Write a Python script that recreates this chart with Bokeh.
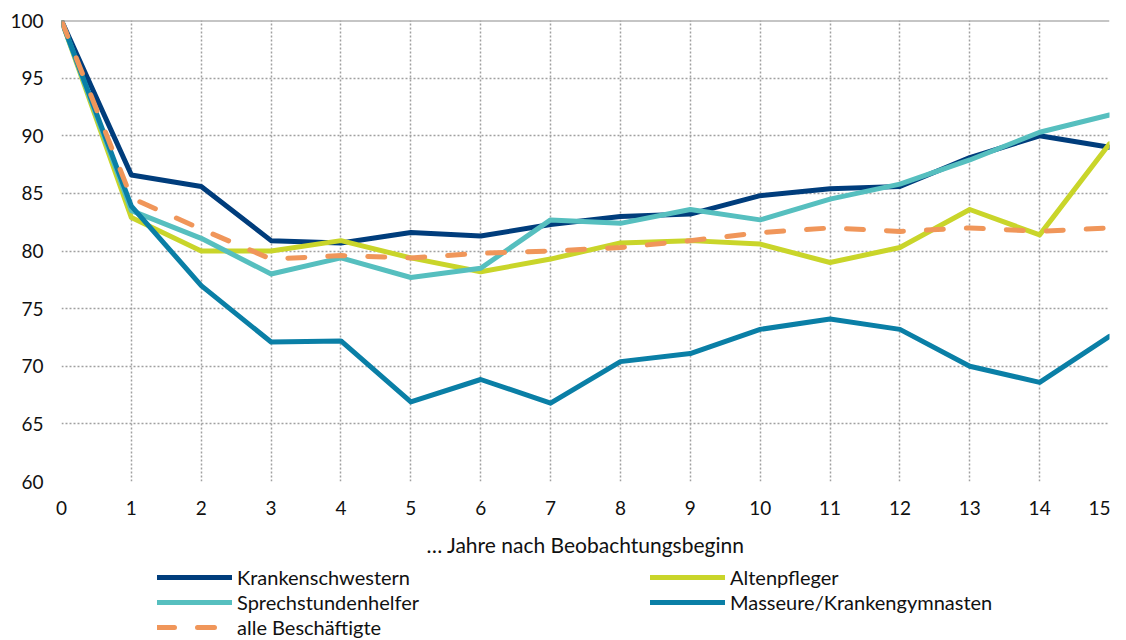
from bokeh.plotting import figure
from bokeh.models import FixedTicker, Legend, LegendItem, Span, Range1d
from bokeh.layouts import column
from bokeh.embed import file_html
from bokeh.resources import INLINE

years = list(range(16))
krankenschwestern = [100, 86.6, 85.6, 80.9, 80.7, 81.6, 81.3, 82.3, 83.0, 83.2, 84.8, 85.4, 85.6, 88.1, 90.0, 89.0]
altenpfleger = [100, 82.9, 80.0, 80.0, 80.9, 79.4, 78.2, 79.3, 80.7, 80.9, 80.6, 79.0, 80.3, 83.6, 81.4, 89.3]
sprechstundenhelfer = [100, 83.5, 81.1, 78.0, 79.4, 77.7, 78.5, 82.7, 82.4, 83.6, 82.7, 84.5, 85.8, 87.9, 90.3, 91.8]
masseure = [100, 83.9, 77.0, 72.1, 72.2, 66.9, 68.85, 66.8, 70.4, 71.1, 73.2, 74.1, 73.2, 70.0, 68.6, 72.6]
alle = [100, 84.6, 81.9, 79.3, 79.6, 79.4, 79.8, 80.0, 80.3, 80.9, 81.6, 82.0, 81.7, 82.0, 81.7, 82.0]

names = ["Krankenschwestern", "Altenpfleger", "Sprechstundenhelfer", "Masseure/Krankengymnasten", "alle Beschäftigte"]
colors = ["#003d7c", "#c9d52a", "#56bfbf", "#0a7fa6", "#f0965a"]
dashes = ["solid", "solid", "solid", "solid", "17 23"]
series = [krankenschwestern, altenpfleger, sprechstundenhelfer, masseure, alle]
legend_order = [0, 2, 4, 1, 3]  # column-major fill: left column, then right column
x_ticks = list(range(16))
y_ticks = [60, 65, 70, 75, 80, 85, 90, 95, 100]

FONT = "Lato"
p = figure(width=1110, height=560, output_backend="svg", toolbar_location=None,
           x_range=Range1d(0, 15), y_range=Range1d(60, 100),
           min_border_left=61, min_border_right=1, min_border_top=20, min_border_bottom=79)
p.outline_line_color = None

for ax in (p.xaxis[0], p.yaxis[0]):
    ax.axis_line_color = None
    ax.major_tick_line_color = None
    ax.minor_tick_line_color = None
    ax.major_tick_out = 0
    ax.major_tick_in = 0
    ax.major_label_text_font = FONT
    ax.major_label_text_font_size = "19px"
    ax.major_label_text_color = "#111111"

p.xaxis.ticker = FixedTicker(ticks=x_ticks)
p.yaxis.ticker = FixedTicker(ticks=y_ticks)
p.xaxis.major_label_standoff = 19
p.yaxis.major_label_standoff = 18
p.xaxis.axis_label = "… Jahre nach Beobachtungsbeginn"
p.xaxis.axis_label_text_font = FONT
p.xaxis.axis_label_text_font_size = "21px"
p.xaxis.axis_label_text_font_style = "normal"
p.xaxis.axis_label_text_color = "#111111"
p.xaxis.axis_label_standoff = 14

for g in (p.xgrid[0], p.ygrid[0]):
    g.grid_line_color = "#a0a0a0"
    g.grid_line_dash = "2 2"
    g.grid_line_width = 1.5

p.add_layout(Span(location=100, dimension="width", line_color="#8c8c8c", line_width=2))

for ys, c, d in zip(series, colors, dashes):
    p.line(years, ys, line_color=c, line_width=5, line_join="round", line_cap="round", line_dash=d)

# legend panel below the chart (frame aligned with the chart's frame)
lf = figure(width=1110, height=80, output_backend="svg", toolbar_location=None,
            x_range=Range1d(0, 1), y_range=Range1d(0, 1),
            min_border_left=0, min_border_right=0, min_border_top=0, min_border_bottom=0)
lf.axis.visible = False
lf.grid.visible = False
lf.outline_line_color = None
items = []
for i in legend_order:
    r = lf.line(x=[float("nan")], y=[float("nan")], line_color=colors[i], line_width=5,
                line_cap="round", line_dash=dashes[i])
    items.append(LegendItem(label=names[i], renderers=[r]))

legend = Legend(items=items, ncols=2, location=(96, 1), padding=0, margin=0,
                glyph_width=75, glyph_height=16, label_standoff=5, label_width=412,
                label_height=16, spacing=1,
                label_text_font=FONT, label_text_font_size="20px", label_text_color="#111111",
                border_line_alpha=0, background_fill_alpha=0)
lf.add_layout(legend, "center")

open("out.html", "w").write(file_html(column(p, lf, spacing=0), INLINE))
